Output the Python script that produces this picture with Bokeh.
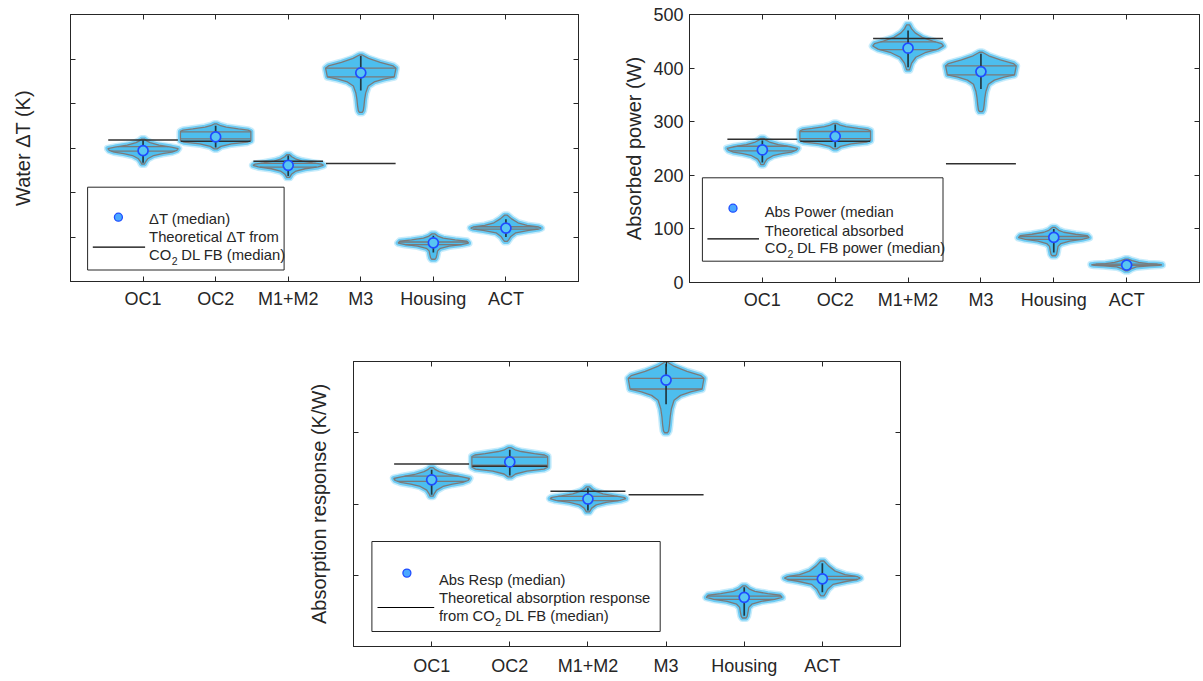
import numpy as np
from bokeh.plotting import figure
from bokeh.models import Range1d, FixedTicker, LinearAxis, Spacer
from bokeh.layouts import row, column
from bokeh.core.properties import value
from bokeh.embed import file_html
from bokeh.resources import INLINE

# ---------------- data ----------------
categories = ["OC1", "OC2", "M1+M2", "M3", "Housing", "ACT"]

# Panel A : water delta T (axis has no numeric labels -> arbitrary units 0..6)
dT_median = [2.94, 3.25, 2.61, 4.69, 0.87, 1.20]
dT_top = [3.20, 3.54, 2.85, 5.09, 1.07, 1.49]
dT_bottom = [2.64, 2.98, 2.34, 3.80, 0.50, 0.90]
dT_whisk_hi = [3.17, 3.50, 2.83, 5.07, 1.03, 1.40]
dT_whisk_lo = [2.67, 3.01, 2.37, 4.29, 0.65, 1.00]
dT_theory = [3.18, 3.15, 2.70, 2.65, None, None]

# Panel B : absorbed power (W)
P_median = [247.3, 272.7, 437.1, 393.5, 84.1, 32.5]
P_top = [269.0, 297.0, 480.8, 429.6, 102.7, 43.7]
P_bottom = [219.8, 249.2, 396.7, 318.8, 49.9, 21.9]
P_whisk_hi = [264.7, 294.6, 470.1, 426.6, 99.7, 40.5]
P_whisk_lo = [224.1, 252.2, 401.6, 361.2, 56.0, 25.6]
P_theory = [267.1, 263.4, 455.2, 221.7, None, None]

# Panel C : absorption response (axis has no numeric labels -> arbitrary units 0..4)
R_median = [2.34, 2.59, 2.07, 3.74, 0.69, 0.95]
R_top = [2.51, 2.79, 2.24, 3.99, 0.85, 1.20]
R_bottom = [2.11, 2.38, 1.89, 3.00, 0.40, 0.71]
R_whisk_hi = [2.48, 2.76, 2.22, 3.97, 0.83, 1.17]
R_whisk_lo = [2.13, 2.40, 1.91, 3.40, 0.43, 0.76]
R_theory = [2.56, 2.53, 2.18, 2.13, None, None]

# violin outline templates (relative height from bottom 0 -> top 1, relative half width)
oc1_t = [0.0, 0.09, 0.21, 0.34, 0.42, 0.48, 0.55, 0.62, 0.68, 0.76, 0.86, 0.93, 1.0]
oc1_w = [0.04, 0.07, 0.13, 0.30, 0.55, 0.82, 0.96, 1.0, 0.80, 0.45, 0.20, 0.10, 0.04]
oc2_t = [0.0, 0.10, 0.20, 0.27, 0.33, 0.70, 0.75, 0.80, 0.87, 0.93, 1.0]
oc2_w = [0.04, 0.15, 0.45, 0.90, 1.0, 1.0, 0.92, 0.65, 0.30, 0.14, 0.04]
m12_t = [0.0, 0.15, 0.28, 0.38, 0.46, 0.53, 0.58, 0.64, 0.72, 0.82, 0.91, 1.0]
m12_w = [0.04, 0.10, 0.22, 0.48, 0.85, 1.0, 0.95, 0.70, 0.40, 0.20, 0.10, 0.04]
m3_t = [0.0, 0.03, 0.11, 0.23, 0.34, 0.46, 0.53, 0.58, 0.62, 0.77, 0.81, 0.87, 0.94, 1.0]
m3_w = [0.04, 0.07, 0.09, 0.11, 0.14, 0.21, 0.38, 0.65, 0.95, 1.0, 0.92, 0.55, 0.22, 0.04]
hou_t = [0.0, 0.06, 0.18, 0.33, 0.43, 0.52, 0.58, 0.64, 0.71, 0.76, 0.83, 0.90, 1.0]
hou_w = [0.05, 0.08, 0.10, 0.12, 0.20, 0.45, 0.80, 1.0, 0.95, 0.62, 0.28, 0.14, 0.04]
act_t = [0.0, 0.07, 0.19, 0.33, 0.42, 0.47, 0.51, 0.55, 0.61, 0.71, 0.86, 1.0]
act_w = [0.04, 0.08, 0.14, 0.28, 0.65, 0.92, 1.0, 0.93, 0.60, 0.34, 0.16, 0.04]
# relative heights of the two grey horizontal lines inside each violin
inner_lines = [(0.70, 0.52), (0.68, 0.40), (0.62, 0.45), (0.77, 0.62), (0.68, 0.58), (0.56, 0.47)]

shapes = [(oc1_t, oc1_w), (oc2_t, oc2_w), (m12_t, m12_w), (m3_t, m3_w), (hou_t, hou_w), (act_t, act_w)]

# ---------------- style ----------------
FONT = "Liberation Sans"
INK = "#262626"
VIOLIN = "#4DBEEE"
GLOW = "#62C8F3"
EDGE = "#7A7A7A"
HW = 0.485


def style_axes(p, yticks, ylabels_visible, ylabel, label_standoff, xstandoff):
    xt = list(range(1, len(categories) + 1))
    p.xgrid.visible = False
    p.ygrid.visible = False
    p.outline_line_color = INK
    p.outline_line_width = 1
    p.background_fill_color = "white"
    p.border_fill_color = "white"

    xa = p.xaxis[0]
    xa.ticker = FixedTicker(ticks=xt)
    xa.major_label_overrides = {t: c for t, c in zip(xt, categories)}
    ya = p.yaxis[0]
    ya.ticker = FixedTicker(ticks=yticks)
    if not ylabels_visible:
        ya.major_label_overrides = {t: "" for t in yticks}
        ya.major_label_text_font_size = "1px"
        ya.major_label_standoff = 0
    else:
        ya.major_label_text_font_size = "18px"
        ya.major_label_standoff = 6
    for ax in (xa, ya):
        ax.axis_line_color = INK
        ax.major_tick_line_color = INK
        ax.major_tick_in = 5
        ax.major_tick_out = 0
        ax.minor_tick_line_color = None
        ax.major_label_text_font = FONT
        ax.major_label_text_color = INK
        ax.axis_label_text_font = FONT
        ax.axis_label_text_font_style = "normal"
        ax.axis_label_text_color = INK
        ax.axis_label_text_font_size = "20px"
    xa.major_label_text_font_size = "18px"
    xa.major_label_standoff = xstandoff
    ya.axis_label = ylabel
    ya.axis_label_standoff = label_standoff

    # box ticks on the top and right side (MATLAB "box on")
    ra = LinearAxis(ticker=FixedTicker(ticks=yticks),
                    major_label_overrides={t: "" for t in yticks})
    ta = LinearAxis(ticker=FixedTicker(ticks=xt),
                    major_label_overrides={t: "" for t in xt})
    for ax in (ra, ta):
        ax.major_label_text_font_size = "1px"
        ax.major_label_standoff = 0
        ax.major_tick_in = 5
        ax.major_tick_out = 0
        ax.minor_tick_line_color = None
        ax.axis_line_color = INK
        ax.major_tick_line_color = INK
    p.add_layout(ra, "right")
    p.add_layout(ta, "above")


def draw_violins(p, med, top, bot, whi, wlo, theo):
    xs_all, ys_all = [], []
    ix0, ix1, iy = [], [], []
    for i in range(len(categories)):
        cx = i + 1
        t = np.array(shapes[i][0])
        w = np.array(shapes[i][1])
        ys = bot[i] + t * (top[i] - bot[i])
        px = np.concatenate([cx + w * HW, (cx - w * HW)[::-1]])
        py = np.concatenate([ys, ys[::-1]])
        xs_all.append(px)
        ys_all.append(py)
        for tl in inner_lines[i]:
            wl = np.interp(tl, t, w)
            ix0.append(cx - wl * HW)
            ix1.append(cx + wl * HW)
            iy.append(bot[i] + tl * (top[i] - bot[i]))
    # soft glow made of the scattered samples around the outline
    p.patches(xs_all, ys_all, fill_alpha=0.0, line_color=GLOW,
              line_width=8, line_alpha=0.35, line_join="round")
    p.patches(xs_all, ys_all, fill_alpha=0.0, line_color=GLOW,
              line_width=5, line_alpha=0.9, line_join="round")
    p.patches(xs_all, ys_all, fill_color=VIOLIN, line_color=EDGE, line_width=1.3)
    p.segment(x0=ix0, y0=iy, x1=ix1, y1=iy, line_color=EDGE, line_width=1.3)

    tx = [i + 1 for i in range(len(categories)) if theo[i] is not None]
    ty = [v for v in theo if v is not None]
    p.segment(x0=[x - 0.48 for x in tx], y0=ty, x1=[x + 0.48 for x in tx], y1=ty,
              line_color="#303030", line_width=1.5)

    xc = [i + 1 for i in range(len(categories))]
    p.segment(x0=xc, y0=wlo, x1=xc, y1=whi, line_color="#1E2A30", line_width=1.7, line_alpha=0.9)
    p.scatter(xc, med, marker="circle", size=10, fill_color="#58C6F2",
              line_color="#1F4DFF", line_width=1.7)


def draw_legend(p, ref_left, ref_top, fw, fh, ymax, box, marker, text_x, rows, line, texts, sub_prefix):
    def cx(px):
        return (px - ref_left) / fw * 7.0

    def cy(py):
        return ymax - (py - ref_top) / fh * ymax

    p.quad(left=[cx(box[0])], right=[cx(box[2])], top=[cy(box[1])], bottom=[cy(box[3])],
           fill_color="white", line_color=INK, line_width=1)
    p.scatter([cx(marker[0])], [cy(marker[1])], marker="circle", size=8,
              fill_color="#4AA8FF", line_color="#1F4DFF", line_width=1.3)
    p.line([cx(line[0]), cx(line[1])], [cy(line[2]), cy(line[2])], line_color="black", line_width=1.2)
    fs = 14.8
    p.text([cx(text_x)] * 2, [cy(rows[0]), cy(rows[1])], text=texts[:2],
           text_font=value(FONT), text_font_size="%.1fpx" % fs, text_color=INK,
           text_baseline="middle", text_align="left")
    # third row: "...CO" + subscript 2 + rest
    pre = sub_prefix
    pre_w = {"CO": 1.5, "from CO": 3.778}[pre] * fs
    p.text([cx(text_x)], [cy(rows[2])], text=[pre], text_font=value(FONT),
           text_font_size="%.1fpx" % fs, text_color=INK, text_baseline="middle", text_align="left")
    p.text([cx(text_x)], [cy(rows[2])], text=["2"], x_offset=pre_w + 0.5, y_offset=6,
           text_font=value(FONT), text_font_size="10.5px", text_color=INK,
           text_baseline="middle", text_align="left")
    p.text([cx(text_x)], [cy(rows[2])], text=[texts[2]], x_offset=pre_w + 10.0,
           text_font=value(FONT), text_font_size="%.1fpx" % fs, text_color=INK,
           text_baseline="middle", text_align="left")


# ---------------- panel A ----------------
pA = figure(frame_width=508, frame_height=267, x_range=Range1d(0, 7), y_range=Range1d(0, 6),
            min_border_left=70, min_border_right=31, min_border_top=14, min_border_bottom=40,
            output_backend="svg", toolbar_location=None)
style_axes(pA, [0, 1, 2, 3, 4, 5, 6], False, "Water \u0394T (K)", 37, 7)
draw_violins(pA, dT_median, dT_top, dT_bottom, dT_whisk_hi, dT_whisk_lo, dT_theory)
draw_legend(pA, 70.4, 14.0, 508, 267, 6.0,
            box=(87.5, 186.7, 284.0, 269.5), marker=(118.3, 216.7), text_x=149.0,
            rows=(218.3, 236.7, 254.0), line=(92.7, 145.0, 246.7),
            texts=["\u0394T (median)", "Theoretical \u0394T from", "DL FB (median)"], sub_prefix="CO")

# ---------------- panel B ----------------
pB = figure(frame_width=510, frame_height=268, x_range=Range1d(0, 7), y_range=Range1d(0, 500),
            min_border_left=80, min_border_right=2, min_border_top=14, min_border_bottom=39,
            output_backend="svg", toolbar_location=None)
style_axes(pB, [0, 100, 200, 300, 400, 500], True, "Absorbed power (W)", 5, 7)
draw_violins(pB, P_median, P_top, P_bottom, P_whisk_hi, P_whisk_lo, P_theory)
draw_legend(pB, 688.8, 14.0, 510, 268, 500.0,
            box=(701.7, 177.3, 942.3, 260.7), marker=(732.3, 207.7), text_x=764.0,
            rows=(211.7, 230.0, 247.3), line=(706.7, 758.3, 238.3),
            texts=["Abs Power (median", "Theoretical absorbed", "DL FB power (median)"], sub_prefix="CO")

# ---------------- panel C ----------------
pC = figure(frame_width=547, frame_height=285, x_range=Range1d(0, 7), y_range=Range1d(0, 4),
            min_border_left=55, min_border_right=8, min_border_top=40, min_border_bottom=33,
            output_backend="svg", toolbar_location=None)
style_axes(pC, [0, 1, 2, 3, 4], False, "Absorption response (K/W)", 24, 9)
draw_violins(pC, R_median, R_top, R_bottom, R_whisk_hi, R_whisk_lo, R_theory)
draw_legend(pC, 353.3, 360.7, 547, 285, 4.0,
            box=(371.7, 540.7, 660.0, 630.7), marker=(406.7, 572.3), text_x=438.7,
            rows=(579.3, 596.7, 615.0), line=(377.3, 434.0, 606.7),
            texts=["Abs Resp (median)", "Theoretical absorption response", "DL FB (median)"],
            sub_prefix="from CO")

layout = column(row(pA, pB), row(Spacer(width=298, height=358), pC))
open("out.html", "w").write(file_html(layout, INLINE))
